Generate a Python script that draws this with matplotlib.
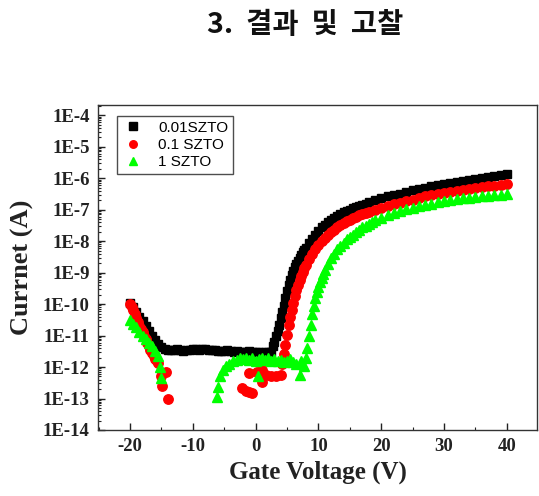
import numpy as np
import matplotlib
matplotlib.use("Agg")
import matplotlib.pyplot as plt
from matplotlib.ticker import FixedLocator, LogLocator, NullFormatter, MultipleLocator

# ---------------- data ----------------
# 0.01SZTO (black squares)
v_black = [-20, -19.5, -19, -18.5, -18, -17.5, -17, -16.5, -16, -15.5, -15, -14.5, -14,
           -13.5, -13, -12.5, -12, -11.5, -11, -10.5, -10, -9.5, -9, -8.5, -8, -7.5, -7,
           -6.5, -6, -5.5, -5, -4.5, -4, -3.5, -3, -2.5, -2, -1.5, -1, -0.5, 0, 0.5, 1,
           1.5, 2, 2.5,
           2.75, 3, 3.25, 3.5, 3.75, 4, 4.25, 4.5, 4.75, 5, 5.25, 5.5, 5.75, 6, 6.25, 6.5,
           6.75, 7, 7.25, 7.5, 7.75, 8, 8.5,
           9, 9.5, 10, 10.5, 11, 11.5, 12, 12.5, 13, 13.5, 14, 14.5, 15, 15.5, 16, 16.5,
           17, 17.5, 18, 19, 20, 21, 22, 23, 24, 25, 26, 27, 28,
           29, 30, 31, 32, 33, 34, 35, 36, 37, 38, 39, 40]
i_black = [1.1e-10, 7.9e-11, 5.6e-11, 4.0e-11, 2.8e-11, 2.0e-11, 1.4e-11, 1.0e-11, 7.4e-12,
           5.4e-12, 4.2e-12, 3.7e-12, 3.5e-12,
           3.5e-12, 3.4e-12, 3.6e-12, 3.4e-12, 3.3e-12, 3.5e-12, 3.4e-12, 3.6e-12, 3.7e-12,
           3.5e-12, 3.6e-12, 3.8e-12, 3.5e-12, 3.4e-12, 3.5e-12, 3.3e-12, 3.2e-12, 3.3e-12,
           3.4e-12, 3.2e-12, 3.1e-12, 3.2e-12, 3.0e-12, 3.1e-12, 3.0e-12, 3.2e-12, 3.0e-12,
           2.9e-12, 3.0e-12, 2.8e-12, 2.9e-12, 3.0e-12, 3.1e-12,
           4.5e-12, 6.3e-12, 9.5e-12, 1.4e-11, 2.2e-11, 3.5e-11, 5.6e-11, 8.9e-11, 1.5e-10,
           2.5e-10, 4.0e-10, 6.0e-10, 8.3e-10, 1.1e-9, 1.5e-9, 1.9e-9, 2.4e-9, 3.0e-9,
           3.6e-9, 4.4e-9, 5.2e-9, 6.1e-9, 8.6e-9,
           1.2e-8, 1.6e-8, 2.1e-8, 2.7e-8, 3.3e-8, 4.0e-8, 4.7e-8, 5.5e-8, 6.3e-8, 7.2e-8,
           8.1e-8, 9.0e-8, 1.0e-7, 1.1e-7, 1.2e-7, 1.3e-7, 1.4e-7, 1.55e-7, 1.7e-7,
           2.0e-7, 2.25e-7, 2.6e-7, 2.9e-7, 3.2e-7, 3.6e-7, 4.1e-7, 4.6e-7, 5.0e-7, 5.5e-7,
           6.0e-7, 6.6e-7, 7.1e-7, 7.6e-7, 8.1e-7, 8.7e-7, 9.3e-7, 1.0e-6, 1.07e-6, 1.15e-6,
           1.23e-6, 1.32e-6]

# 0.1 SZTO (red circles)
v_red = [-20, -19.75, -19.5, -19.25, -19, -18.75, -18.5, -18.25, -18, -17.75, -17.5, -17.25,
         -17, -16.75, -16.5, -16.25, -16, -15.75, -15.5, -15, -14.2, -14.9, -14,
         -2.2, -1.6, -1.0, -0.5, -1.0, 0.2, 1.0, 1.0, 1.7, 2.5, 3.3, 4.0,
         4.25, 4.5, 4.75, 5, 5.25, 5.5, 5.75, 6, 6.25, 6.5, 6.75, 7, 7.25, 7.5, 7.75, 8,
         8.5, 9, 9.5, 10, 10.5, 11, 11.5, 12, 12.5, 13, 13.5, 14, 14.5, 15, 15.5, 16, 16.5,
         17, 17.5, 18, 19,
         20, 21, 22, 23, 24, 25, 26, 27, 28, 29, 30, 31, 32, 33, 34, 35, 36, 37, 38, 39, 40]
i_red = [1.0e-10, 8.0e-11, 6.3e-11, 4.7e-11, 3.5e-11, 2.7e-11, 2.0e-11, 1.6e-11, 1.3e-11,
         1.0e-11, 7.9e-12, 6.0e-12, 4.5e-12, 3.5e-12, 2.8e-12, 2.2e-12, 1.8e-12, 1.5e-12,
         1.3e-12, 5.0e-13, 7.0e-13, 2.5e-13, 1.0e-13,
         2.1e-13, 1.7e-13, 1.6e-13, 1.5e-13, 6.3e-13, 7.1e-13, 7.9e-13, 3.4e-13, 5.6e-13,
         5.2e-13, 5.0e-13, 5.6e-13,
         1.26e-12, 2.5e-12, 5.0e-12, 1.05e-11, 2.1e-11, 3.8e-11, 6.6e-11, 1.1e-10, 1.74e-10,
         2.7e-10, 4.0e-10, 5.6e-10, 7.8e-10, 1.05e-9, 1.38e-9, 1.78e-9,
         2.75e-9, 4.0e-9, 5.4e-9, 7.4e-9, 9.8e-9, 1.25e-8, 1.55e-8, 1.9e-8, 2.3e-8, 2.75e-8,
         3.2e-8, 3.7e-8, 4.2e-8, 4.75e-8, 5.3e-8, 5.9e-8, 6.5e-8, 7.1e-8, 7.8e-8, 8.5e-8,
         1.0e-7, 1.13e-7, 1.3e-7, 1.47e-7, 1.65e-7, 1.85e-7, 2.05e-7, 2.35e-7,
         2.7e-7, 2.95e-7, 3.2e-7, 3.45e-7, 3.7e-7, 4.0e-7, 4.3e-7, 4.6e-7, 4.8e-7, 5.1e-7,
         5.4e-7, 5.75e-7, 6.0e-7, 6.3e-7]

# 1 SZTO (green triangles)
v_green = [-20, -19.5, -19, -18.5, -18, -17.5, -17, -16.5, -16, -15.5, -15.3, -15.1,
           -6.2, -6.0, -5.7, -5.2, -4.7, -4.2, -3.6, -3, -2.5, -2, -1.5, -1, -0.5, 0, 0.3,
           0.5, 1, 1.5, 2, 2.5, 3, 3.5, 4, 4.5, 5, 5.5, 6, 6.5, 7, 7.3, 7.7, 8,
           8.25, 8.5, 8.75, 9, 9.25, 9.5, 9.75, 10, 10.25, 10.5, 10.75, 11, 11.5, 12, 12.5,
           13, 13.5, 14, 14.5, 15, 15.5, 16, 16.5, 17, 17.5, 18, 18.5, 19,
           20, 21, 22, 23, 24, 25, 26, 27, 28, 29, 30, 31, 32, 33, 34, 35, 36, 37, 38, 39, 40]
i_green = [3.2e-11, 2.4e-11, 1.8e-11, 1.3e-11, 1.0e-11, 7.6e-12, 6.0e-12, 4.5e-12, 3.3e-12,
           2.2e-12, 1.0e-12, 4.5e-13,
           1.1e-13, 2.3e-13, 5.0e-13, 7.9e-13, 1.05e-12, 1.26e-12, 1.5e-12, 1.66e-12, 1.9e-12,
           1.8e-12, 2.0e-12, 1.66e-12, 1.9e-12, 1.6e-12, 5.0e-13,
           1.8e-12, 2.0e-12, 1.66e-12, 1.9e-12, 1.6e-12, 1.8e-12, 1.5e-12, 1.66e-12, 1.4e-12,
           1.6e-12, 1.8e-12, 1.4e-12, 1.26e-12, 5.6e-13, 1.6e-12, 1.1e-12, 2.0e-12,
           4.0e-12, 1.0e-11, 2.2e-11, 4.8e-11, 8.9e-11, 1.5e-10, 2.4e-10, 3.5e-10, 5.0e-10,
           6.9e-10, 9.3e-10, 1.2e-9, 1.9e-9, 2.8e-9, 4.0e-9,
           5.4e-9, 7.1e-9, 8.9e-9, 1.15e-8, 1.38e-8, 1.6e-8, 1.9e-8, 2.3e-8, 2.7e-8, 3.1e-8,
           3.5e-8, 4.0e-8, 4.5e-8,
           5.5e-8, 6.6e-8, 7.8e-8, 8.9e-8, 1.02e-7, 1.15e-7, 1.29e-7, 1.41e-7, 1.55e-7, 1.7e-7,
           1.86e-7, 2.0e-7, 2.14e-7, 2.3e-7, 2.4e-7, 2.5e-7, 2.63e-7, 2.75e-7, 2.9e-7, 3.0e-7,
           3.16e-7]

series_labels = ["0.01SZTO", "0.1 SZTO", "1 SZTO"]
x_ticks = [-20, -10, 0, 10, 20, 30, 40]
y_ticks = [1e-14, 1e-13, 1e-12, 1e-11, 1e-10, 1e-9, 1e-8, 1e-7, 1e-6, 1e-5, 1e-4]
y_tick_labels = ["1E-14", "1E-13", "1E-12", "1E-11", "1E-10", "1E-9", "1E-8",
                 "1E-7", "1E-6", "1E-5", "1E-4"]
title_text = "3.  결과  및  고찰"
x_label = "Gate Voltage (V)"
y_label = "Currnet (A)"

# ---------------- figure ----------------
W, H = 539, 496
fig = plt.figure(figsize=(W / 100, H / 100), dpi=100)
ax = fig.add_axes([98 / W, (H - 430) / H, (537 - 98) / W, (430 - 105) / H])

serif = "Liberation Serif"
sans = "Liberation Sans"

ax.plot(v_black, i_black, linestyle="none", marker="s", ms=6.4, color="black",
        mec="black", label=series_labels[0], zorder=3)
ax.plot(v_red, i_red, linestyle="none", marker="o", ms=6.8, color="#ff0000",
        mec="#ff0000", label=series_labels[1], zorder=4)
ax.plot(v_green, i_green, linestyle="none", marker="^", ms=7.4, color="#00ff00",
        mec="#00ff00", label=series_labels[2], zorder=5)

ax.set_yscale("log")
ax.set_xlim(-25.1, 44.8)
ax.set_ylim(1e-14, 10 ** -3.68)

ax.xaxis.set_major_locator(FixedLocator(x_ticks))
ax.xaxis.set_minor_locator(MultipleLocator(5))
ax.set_xticklabels([str(t) for t in x_ticks])
ax.yaxis.set_major_locator(FixedLocator(y_ticks))
ax.set_yticklabels(y_tick_labels)
ax.yaxis.set_minor_locator(LogLocator(base=10, subs=np.arange(2, 10), numticks=100))
ax.yaxis.set_minor_formatter(NullFormatter())

ax.tick_params(axis="both", which="major", direction="in", length=5, width=1,
               color="#222222", top=False, right=False, pad=6)
ax.tick_params(axis="both", which="minor", direction="in", length=2.5, width=0.8,
               color="#222222", top=False, right=False)
for lab in ax.get_xticklabels() + ax.get_yticklabels():
    lab.set_fontfamily(serif)
    lab.set_fontweight("bold")
    lab.set_fontsize(13.5)
    lab.set_color("#222222")

for sp in ax.spines.values():
    sp.set_color("#333333")
    sp.set_linewidth(1.0)

ax.set_xlabel(x_label, fontfamily=serif, fontweight="bold", fontsize=18,
              color="#222222", labelpad=4)
ax.set_ylabel(y_label, fontfamily=serif, fontweight="bold", fontsize=19,
              color="#222222", labelpad=6)

leg = ax.legend(loc="upper left", bbox_to_anchor=(0.043, 0.966), borderaxespad=0,
                prop={"family": sans, "size": 11}, frameon=True, fancybox=False,
                edgecolor="#222222", handletextpad=0.9, labelspacing=0.22,
                borderpad=0.3, handlelength=1.5, markerscale=0.8)
leg.get_frame().set_linewidth(1.0)

fig.text(0.566, 0.95, title_text, ha="center", va="center",
         fontfamily=["Noto Sans CJK KR", "DejaVu Sans"], fontweight="bold",
         fontsize=20.5, color="#111111")

fig.savefig("out.png", dpi=100)
